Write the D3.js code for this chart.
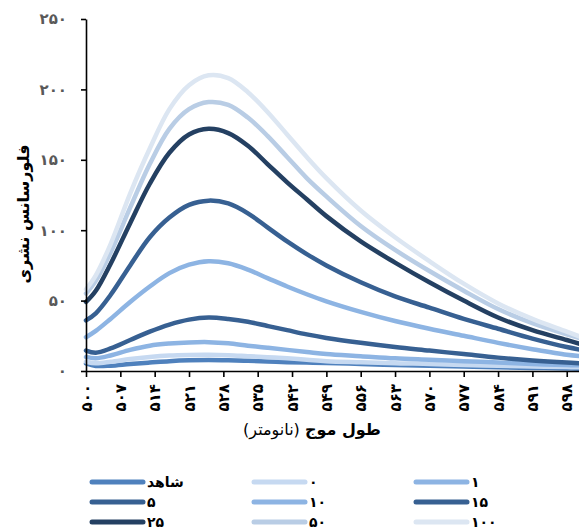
<!DOCTYPE html>
<html>
<head>
<meta charset="utf-8">
<script src="https://cdn.jsdelivr.net/npm/d3@7"></script>
<style>
  body { margin: 0; background: #fff; }
  text { font-family: "DejaVu Sans", sans-serif; }
</style>
</head>
<body>
<svg id="chart" width="579" height="529"></svg>
<script>
// Emission spectra, one line per concentration
const wavelengths = [500, 502, 505, 509, 513, 517, 521, 525, 529, 533, 537, 541, 545, 549, 556, 563, 570, 577, 584, 591, 598, 601]

const blank = [5.4, 3.6, 3.8, 5, 6, 7, 7.6, 7.8, 7.6, 7.2, 6.8, 6.3, 6, 5.7, 5, 4.3, 3.7, 3.2, 2.6, 2.2, 1.8, 1.6]
const conc0 = [6.6, 5.5, 6.5, 8.5, 10, 11, 11.4, 11.5, 11.2, 10.5, 9.8, 9, 8, 7, 6.2, 5.5, 5, 4.3, 3.7, 3.2, 2.8, 2.6]
const conc1 = [10, 9, 11, 15, 18, 19.5, 20.3, 20.5, 19.7, 18, 16.5, 15, 13.5, 12, 10.5, 9, 8, 7, 6, 5, 4.2, 4]
const conc5 = [14.5, 13, 16, 22, 28, 33, 36.5, 38, 37, 35, 32, 29, 26, 23.5, 20, 17, 14.5, 12, 9.5, 7.5, 6, 5.5]
const conc10 = [24, 28.5, 37, 49, 60, 69.5, 75.5, 78, 76.5, 72, 66, 60, 54.5, 49.5, 42, 35.5, 30, 25, 20, 15.5, 11.5, 10.5]
const conc15 = [36, 41, 54, 75, 95, 109, 118, 121, 119, 112, 102, 92, 83, 75, 63, 53, 45, 37, 30, 23, 17, 15]
const conc25 = [49, 57, 76, 105, 133, 155, 168, 172, 169, 160, 147, 134, 122, 110, 92, 77, 63, 50, 38, 29, 22, 19]
const conc50 = [55, 64, 84, 116, 147, 172, 186, 191, 189, 180, 167, 152, 137, 124, 103, 86, 71, 57, 44, 34, 26, 23]
const conc100 = [58, 68, 90, 126, 158, 186, 203, 210, 208, 198, 184, 168, 152, 137, 114, 95, 78, 62, 48, 37, 28, 24]

const seriesNames = ['شاهد', '۰', '۱', '۵', '۱۰', '۱۵', '۲۵', '۵۰', '۱۰۰']
const seriesValues = [blank, conc0, conc1, conc5, conc10, conc15, conc25, conc50, conc100]
const seriesColors = ['#4f81bd', '#c6d9f1', '#8db4e3', '#376092', '#8db4e3', '#376092', '#244062', '#b9cde5', '#dce6f2']

const xTicks = [500, 507, 514, 521, 528, 535, 542, 549, 556, 563, 570, 577, 584, 591, 598]
const yTicks = [0, 50, 100, 150, 200, 250]

const yTitle = 'فلورسانس نشری'
const xTitleBold = 'طول موج'
const xTitleUnit = ' (نانومتر)'

// Persian digits for tick labels
const faDigits = '۰۱۲۳۴۵۶۷۸۹'
const toFa = n => String(n).replace(/\d/g, d => faDigits[d])

const svg = d3.select('#chart')
const plotLeft = 86
const plotRight = 579
const plotTop = 19
const plotBottom = 371

const x = d3.scaleLinear().domain([500, 600.5]).range([plotLeft, plotRight])
const y = d3.scaleLinear().domain([0, 250]).range([plotBottom, plotTop])

// Lines first, axes on top
const line = d3.line()
  .x((d, i) => x(wavelengths[i]))
  .y(d => y(d))
  .curve(d3.curveCatmullRom.alpha(0.5))

svg.append('g')
  .selectAll('path')
  .data(seriesValues)
  .join('path')
  .attr('d', d => line(d))
  .attr('fill', 'none')
  .attr('stroke', (d, i) => seriesColors[i])
  .attr('stroke-width', 4.5)
  .attr('stroke-linecap', 'round')
  .attr('stroke-linejoin', 'round')

// Y axis
const yAxis = svg.append('g')
  .attr('transform', `translate(${plotLeft},0)`)
  .call(d3.axisLeft(y).tickValues(yTicks).tickFormat(toFa).tickSize(5).tickSizeOuter(0).tickPadding(14))
yAxis.select('.domain').attr('stroke', '#000').attr('stroke-width', 1.6)
yAxis.selectAll('.tick line').attr('stroke', '#000').attr('stroke-width', 1.6)
yAxis.selectAll('.tick text')
  .attr('fill', '#595959')
  .attr('font-size', 15)
  .attr('font-weight', 'bold')
  .attr('font-family', '"DejaVu Sans", sans-serif')

// X axis
const xAxis = svg.append('g')
  .attr('transform', `translate(0,${plotBottom})`)
  .call(d3.axisBottom(x).tickValues(xTicks).tickFormat(toFa).tickSize(6).tickSizeOuter(0))
xAxis.select('.domain').attr('stroke', '#000').attr('stroke-width', 1.6)
xAxis.selectAll('.tick line').attr('stroke', '#000').attr('stroke-width', 1.6)
xAxis.selectAll('.tick text')
  .attr('fill', '#000')
  .attr('font-size', 15)
  .attr('font-weight', 'bold')
  .attr('font-family', '"DejaVu Sans", sans-serif')
  .attr('text-anchor', 'end')
  .attr('dy', '0.35em')
  .attr('transform', 'translate(0,13) rotate(-90)')
  .attr('x', 0)
  .attr('y', 0)

// Axis titles
svg.append('text')
  .attr('transform', 'translate(29,214) rotate(-90)')
  .attr('text-anchor', 'middle')
  .attr('font-size', 16)
  .attr('font-weight', 'bold')
  .attr('fill', '#000')
  .text(yTitle)

const xt = svg.append('text')
  .attr('x', 312)
  .attr('y', 435)
  .attr('text-anchor', 'middle')
  .attr('direction', 'rtl')
  .attr('font-size', 16)
  .attr('fill', '#000')
xt.append('tspan').attr('font-weight', 'bold').text(xTitleBold)
xt.append('tspan').text(xTitleUnit)

// Legend, three columns
const legendCols = [90, 252, 414]
const legendRows = [482, 502, 522]
const legend = svg.append('g')
  .selectAll('g')
  .data(seriesNames)
  .join('g')
  .attr('transform', (d, i) => `translate(${legendCols[i % 3]},${legendRows[Math.floor(i / 3)]})`)
legend.append('line')
  .attr('x1', 2).attr('x2', 53)
  .attr('stroke', (d, i) => seriesColors[i])
  .attr('stroke-width', 5)
  .attr('stroke-linecap', 'round')
legend.append('text')
  .attr('x', 57)
  .attr('dy', '0.35em')
  .attr('font-size', 14)
  .attr('font-weight', 'bold')
  .attr('fill', '#000')
  .text(d => d)
</script>
</body>
</html>
